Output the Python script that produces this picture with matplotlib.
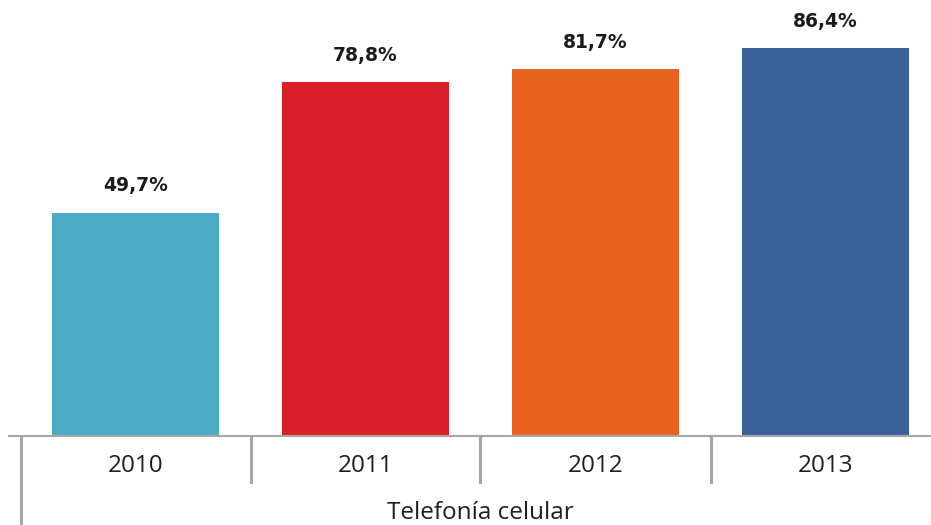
import matplotlib
matplotlib.use('Agg')
import matplotlib.pyplot as plt
from matplotlib.lines import Line2D

# datos
anios = ['2010', '2011', '2012', '2013']
valores = [49.7, 78.8, 81.7, 86.4]
etiquetas = ['49,7%', '78,8%', '81,7%', '86,4%']
colores = ['#4BACC6', '#DA1F28', '#E8641E', '#3A6199']
titulo_eje = 'Telefonía celular'

W, H = 931, 525
fig = plt.figure(figsize=(W / 100, H / 100), dpi=100)

# eje: base de las barras en y=435 px desde arriba
base_px = 435
ax = fig.add_axes([0, (H - base_px) / H, 1, base_px / H])
ax.set_xlim(-135.5 / 230, (W - 135.5) / 230)
ax.set_ylim(0, base_px / 4.475)
ax.axis('off')

x = list(range(len(anios)))
ax.bar(x, valores, width=167 / 230, color=colores)

for xi, v, t in zip(x, valores, etiquetas):
    ax.annotate(t, (xi, v), xytext=(0, 12.5), textcoords='offset points',
                ha='center', va='bottom', fontsize=13.5, fontweight='bold',
                family='DejaVu Sans', color='#1a1a1a')

# linea horizontal del eje y separadores
gris = '#A6A6A6'
fig.add_artist(Line2D([9 / W, 1], [(H - 435.5) / H] * 2, color=gris, lw=1.5))
for i in range(len(anios)):
    xp = 20.5 + 230 * i
    y_fin = 0 if i == 0 else (H - 482) / H
    fig.add_artist(Line2D([xp / W] * 2, [(H - 436) / H, y_fin], color=gris, lw=2.2))

# etiquetas de categoria
for i, a in enumerate(anios):
    xp = 135.5 + 230 * i
    fig.text(xp / W, (H - 466) / H, a, ha='center', va='center',
             fontsize=17.5, family='Open Sans', color='#1f1f1f')

fig.text(480.5 / W, (H - 513) / H, titulo_eje, ha='center', va='center',
         fontsize=17.5, family='Open Sans', color='#1f1f1f')

fig.savefig('out.png', dpi=100)
